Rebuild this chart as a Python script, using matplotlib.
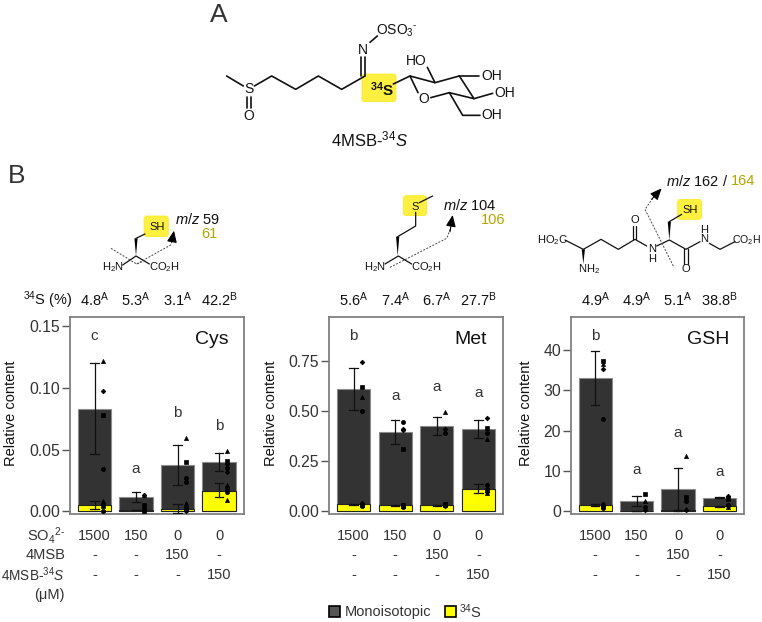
#!/usr/bin/python3
# Sulfur isotope labelling figure: structures on top, three bar panels below.

import matplotlib
matplotlib.use('Agg')
import matplotlib.pyplot as plt
from matplotlib.patches import FancyBboxPatch, Polygon
from matplotlib.transforms import blended_transform_factory

plt.rcParams['font.family'] = ['Liberation Sans', 'DejaVu Sans']
plt.rcParams['mathtext.fontset'] = 'custom'
plt.rcParams['mathtext.rm'] = 'Liberation Sans'
plt.rcParams['mathtext.it'] = 'Liberation Sans:italic'
plt.rcParams['mathtext.bf'] = 'Liberation Sans:bold'
plt.rcParams['mathtext.default'] = 'regular'

# treatment table under the bars
so4 = ['1500', '150', '0', '0']
msb = ['-', '-', '150', '-']
msb34 = ['-', '-', '-', '150']

cys_mono = [0.083, 0.0115, 0.0375, 0.040]
cys_s34 = [0.005, 0.001, 0.0015, 0.0165]
cys_mono_err = [(0.046, 0.120), (0.0075, 0.016), (0.021, 0.054), (0.0325, 0.047)]
cys_s34_err = [(0.0015, 0.0085), (0.0008, 0.0012), (-0.001, 0.0055), (0.0115, 0.0225)]
cys_points = [[0.122, 0.097, 0.078, 0.034, 0.008, 0.006, 0.004, 0.0],
              [0.0135, 0.013, 0.005, 0.003, 0.002, 0.001, 0.0],
              [0.059, 0.001, 0.040, 0.027, 0.007, 0.0, 0.003, 0.024],
              [0.049, 0.038, 0.041, 0.035, 0.021, 0.032, 0.019, 0.016, 0.0095]]
cys_letters = ['c', 'a', 'b', 'b']
cys_letter_y = [0.142, 0.034, 0.0794, 0.0694]
cys_pct = ['4.8', '5.3', '3.1', '42.2']
cys_pct_sup = ['A', 'A', 'A', 'B']

met_mono = [0.61, 0.395, 0.425, 0.41]
met_s34 = [0.035, 0.03, 0.03, 0.11]
met_mono_err = [(0.505, 0.715), (0.335, 0.455), (0.38, 0.47), (0.365, 0.455)]
met_s34_err = [(0.03, 0.038), (0.028, 0.032), (0.026, 0.033), (0.09, 0.135)]
met_points = [[0.57, 0.745, 0.62, 0.50, 0.035, 0.04, 0.03, 0.025],
              [0.03, 0.405, 0.31, 0.445, 0.025, 0.41, 0.032, 0.02],
              [0.495, 0.41, 0.035, 0.39, 0.03, 0.025],
              [0.36, 0.465, 0.415, 0.39, 0.09, 0.095, 0.105, 0.13]]
met_letters = ['b', 'a', 'a', 'a']
met_letter_y = [0.873, 0.574, 0.617, 0.591]
met_pct = ['5.6', '7.4', '6.7', '27.7']
met_pct_sup = ['A', 'A', 'A', 'B']

gsh_mono = [33.1, 2.6, 5.5, 3.4]
gsh_s34 = [1.5, 0.1, 0.2, 1.2]
gsh_mono_err = [(26.3, 39.8), (1.3, 3.9), (0.3, 10.8), (3.3, 3.5)]
gsh_s34_err = [(1.3, 1.7), (0.08, 0.12), (0.15, 0.25), (1.1, 1.4)]
gsh_points = [[36.5, 35.3, 37.2, 23.0, 1.5, 1.9, 1.2, 0.9],
              [2.5, 0.4, 4.2, 1.0],
              [13.6, 0.2, 3.6, 2.6, 0.5],
              [3.0, 3.8, 3.3, 1.6, 1.0, 1.2]]
gsh_letters = ['b', 'a', 'a', 'a']
gsh_letter_y = [43.5, 10.3, 19.5, 9.8]
gsh_pct = ['4.9', '4.9', '5.1', '38.8']
gsh_pct_sup = ['A', 'A', 'A', 'B']

W, H = 762, 622
DARK = '#333333'
OLIVE = '#b3a400'
shapes = ['^', 'D', 's', 'o']

fig = plt.figure(figsize=(W / 100, H / 100), dpi=100)
ov = fig.add_axes([0, 0, 1, 1], zorder=5)
ov.set_xlim(0, W)
ov.set_ylim(H, 0)
ov.axis('off')


def px_axes(x0, y0, x1, y1):
    return fig.add_axes([x0 / W, 1 - y1 / H, (x1 - x0) / W, (y1 - y0) / H])


def panel(box, name, name_x, mono, s34, mono_err, s34_err, points, letters, letter_y,
          ylim, ticks, ticklabels, label_x, pct, pct_sup):
    ax = px_axes(*box)
    xs = range(4)
    ax.bar(xs, mono, width=0.8, color=DARK, edgecolor='#8c8c8c', linewidth=0.8, zorder=2)
    ax.bar(xs, s34, width=0.8, color='#ffff00', edgecolor='#222222', linewidth=0.8, zorder=3)
    for i in xs:
        for lo, hi in (mono_err[i], s34_err[i]):
            ax.plot([i, i], [lo, hi], color='#111111', lw=0.9, zorder=4)
            ax.plot([i - 0.1, i + 0.1], [lo, lo], color='#111111', lw=0.9, zorder=4)
            ax.plot([i - 0.1, i + 0.1], [hi, hi], color='#111111', lw=0.9, zorder=4)
        for k, v in enumerate(points[i]):
            m = shapes[k % 4]
            ax.plot(i + 0.2, v, marker=m, ms=2.4 if m == 'D' else 3.0, color='black',
                    mec='black', mew=0.5, ls='none', zorder=5, clip_on=False)
        ax.text(i, letter_y[i], letters[i], ha='center', va='center', fontsize=11, color=DARK)
    ax.set_xlim(-0.59, 3.6)
    ax.set_ylim(*ylim)
    ax.set_xticks([])
    ax.set_yticks(ticks)
    ax.set_yticklabels(ticklabels, fontsize=11.3, color=DARK)
    ax.tick_params(axis='y', length=6, width=1, color='#555555', pad=1)
    for s in ax.spines.values():
        s.set_color('#808080')
        s.set_linewidth(1.3)
    ov.text(label_x, 413, 'Relative content', rotation=90, ha='center', va='center',
            fontsize=10.5, color='#111111')
    ov.text(name_x, 340, name, ha='center', va='center', fontsize=14, color='#111111')
    # table rows and percentages follow the bar positions, rows sit at fixed pixels
    tr = blended_transform_factory(ax.transData, ov.transData)
    for i in xs:
        ov.text(i, 536, so4[i], transform=tr, ha='center', va='center', fontsize=10.5, color=DARK)
        ov.text(i, 555, msb[i], transform=tr, ha='center', va='center', fontsize=10.5, color=DARK)
        ov.text(i, 575, msb34[i], transform=tr, ha='center', va='center', fontsize=10.5, color=DARK)
        ov.text(i, 300, '%s$^{%s}$' % (pct[i], pct_sup[i]), transform=tr, ha='center',
                va='center', fontsize=10.5, color='#111111')
    return ax


panel((70, 317, 244, 514), 'Cys', 212, cys_mono, cys_s34, cys_mono_err, cys_s34_err,
      cys_points, cys_letters, cys_letter_y, (-0.0022, 0.1573),
      [0, 0.05, 0.10, 0.15], ['0.00', '0.05', '0.10', '0.15'], 11, cys_pct, cys_pct_sup)
panel((329, 317, 503.3, 514), 'Met', 471, met_mono, met_s34, met_mono_err, met_s34_err,
      met_points, met_letters, met_letter_y, (-0.0134, 0.9676),
      [0, 0.25, 0.50, 0.75], ['0.00', '0.25', '0.50', '0.75'], 271, met_pct, met_pct_sup)
panel((570.7, 317, 744.3, 514), 'GSH', 708, gsh_mono, gsh_s34, gsh_mono_err, gsh_s34_err,
      gsh_points, gsh_letters, gsh_letter_y, (-0.67, 48.2),
      [0, 10, 20, 30, 40], ['0', '10', '20', '30', '40'], 526, gsh_pct, gsh_pct_sup)

# row labels
ov.text(65, 536, 'SO$_4$$^{2\\text{-}}$', ha='right', va='center', fontsize=10.5, color=DARK)
ov.text(65, 555, '4MSB', ha='right', va='center', fontsize=10.5, color=DARK)
ov.text(65, 575, '4MSB-$^{34}$$\\mathit{S}$', ha='right', va='center', fontsize=9.8, color=DARK)
ov.text(65, 595, '(μM)', ha='right', va='center', fontsize=10.5, color=DARK)
ov.text(48, 300, '$^{34}$S (%)', ha='center', va='center', fontsize=10.5, color='#111111')

# legend
for x, c in ((329, '#555555'), (444.5, '#ffff00')):
    ov.add_patch(plt.Rectangle((x, 606), 11, 11, fc=c, ec='black', lw=1.2))
ov.text(345, 612, 'Monoisotopic', va='center', fontsize=10.5, color=DARK)
ov.text(459, 612, '$^{34}$S', va='center', fontsize=10.5, color=DARK)

ov.text(210, 15, 'A', ha='left', va='center', fontsize=19, color=DARK)
ov.text(8, 176, 'B', ha='left', va='center', fontsize=19, color=DARK)


def bonds(x0, y0, paths, lw=1.1, **kw):
    # paths are given in 3x zoom units relative to an origin
    for p in paths:
        ov.plot([x0 + a / 3 for a, b in p], [y0 + b / 3 for a, b in p],
                color=kw.get('color', '#111111'), lw=lw, ls=kw.get('ls', '-'),
                solid_capstyle='round')


def labels(x0, y0, items, size=8.5):
    for a, b, s in items:
        ov.text(x0 + a / 3, y0 + b / 3, s, ha='center', va='center', fontsize=size, color='#111111')


def glow(x0, y0, a0, b0, a1, b1):
    ov.add_patch(FancyBboxPatch((x0 + a0 / 3 + 3, y0 + b0 / 3 + 3), (a1 - a0) / 3 - 6, (b1 - b0) / 3 - 6,
                                boxstyle='round,pad=3', fc='#fdf040', ec='#f8e81c', lw=0.5, zorder=0))


def wedge(x0, y0, a0, b0, a1, b1):
    ov.add_patch(Polygon([(x0 + a0 / 3, y0 + b0 / 3), (x0 + a1 / 3 - 1.6, y0 + b1 / 3),
                          (x0 + a1 / 3 + 1.6, y0 + b1 / 3)], fc='black', ec='none'))


def arrow(x0, y0, a0, b0, a1, b1):
    ov.annotate('', xy=(x0 + a1 / 3, y0 + b1 / 3), xytext=(x0 + a0 / 3, y0 + b0 / 3),
                arrowprops=dict(arrowstyle='-|>,head_length=0.7,head_width=0.3', color='black',
                                lw=0.8, shrinkA=0, shrinkB=0))


# panel A, 4MSB structure
glow(190, 0, 516, 222, 618, 305)
bonds(190, 0, [[(110, 228), (160, 258)],
               [(193, 258), (245, 228), (317, 268), (385, 228), (455, 268), (525, 228)],
               [(172, 292), (172, 325)], [(184, 292), (184, 325)],
               [(514, 228), (514, 172)], [(526, 228), (526, 172)],
               [(540, 127), (562, 108)],
               [(610, 252), (660, 228), (735, 248), (808, 228), (852, 296), (778, 278), (722, 293)],
               [(660, 228), (684, 278)],
               [(735, 248), (712, 202)], [(808, 228), (868, 228)], [(852, 296), (908, 280)],
               [(778, 278), (818, 346), (870, 346)]], lw=1.2)
labels(190, 0, [(177, 268, 'S'), (177, 348, 'O'), (520, 150, 'N'),
                (622, 93, 'OSO$_3$$^{\\text{-}}$'), (700, 296, 'O'), (678, 182, 'HO'),
                (905, 228, 'OH'), (943, 278, 'OH'), (905, 346, 'OH')], size=10)
ov.text(190 + 577 / 3, 268 / 3, '$^{\\mathbf{34}}$S', ha='center', va='center', fontsize=11,
        fontweight='bold', color='#111111')
ov.text(190 + 540 / 3, 418 / 3, '4MSB-$^{34}$$\\mathit{S}$', ha='center', va='center',
        fontsize=12, color='#111111')

# cysteine
glow(0, 160, 432, 168, 505, 230)
wedge(0, 160, 408, 288, 408, 235)
bonds(0, 160, [[(408, 235), (435, 222)], [(368, 315), (408, 288), (448, 312)]], lw=0.9)
bonds(0, 160, [[(333, 265), (410, 312), (440, 300)], [(410, 312), (512, 255), (518, 235)]],
      lw=0.7, ls=(0, (2, 1.5)), color='#444444')
arrow(0, 160, 516, 245, 522, 212)
labels(0, 160, [(472, 200, 'SH'), (338, 320, 'H$_2$N'), (492, 320, 'CO$_2$H')], size=8)
ov.text(175, 219, '$\\mathit{m/z}$ 59', va='center', fontsize=10.5, color='#111111')
ov.text(217, 234, '61', ha='right', va='center', fontsize=10.5, color=OLIVE)

# methionine
glow(0, 160, 1210, 107, 1280, 167)
wedge(0, 160, 1193, 288, 1193, 230)
bonds(0, 160, [[(1193, 230), (1247, 198), (1247, 157)], [(1258, 128), (1298, 108)],
               [(1155, 312), (1195, 288), (1235, 312)]], lw=0.9)
bonds(0, 160, [[(1170, 322), (1340, 235), (1352, 205)]], lw=0.7, ls=(0, (2, 1.5)), color='#444444')
arrow(0, 160, 1350, 215, 1358, 165)
labels(0, 160, [(1245, 140, 'S'), (1125, 320, 'H$_2$N'), (1278, 320, 'CO$_2$H')], size=8)
ov.text(443, 205, '$\\mathit{m/z}$ 104', va='center', fontsize=10.5, color='#111111')
ov.text(505, 220, '106', ha='right', va='center', fontsize=10.5, color=OLIVE)

# glutathione
glow(500, 160, 533, 118, 605, 178)
wedge(500, 160, 250, 312, 250, 268)
wedge(500, 160, 508, 240, 508, 185)
bonds(500, 160, [[(195, 240), (250, 268), (303, 238), (355, 268), (405, 238), (440, 258)],
                 [(398, 238), (398, 197)], [(408, 238), (408, 197)],
                 [(470, 258), (508, 240), (558, 268), (600, 245)],
                 [(508, 185), (545, 163)],
                 [(553, 268), (553, 312)], [(563, 268), (563, 312)],
                 [(628, 250), (660, 268), (705, 245)]], lw=0.9)
bonds(500, 160, [[(520, 318), (435, 148), (465, 105)]], lw=0.7, ls=(0, (2, 1.5)), color='#444444')
arrow(500, 160, 455, 118, 485, 85)
labels(500, 160, [(158, 240, 'HO$_2$C'), (403, 180, 'O'), (455, 268, 'N'), (455, 298, 'H'),
                  (570, 150, 'SH'), (558, 328, 'O'), (612, 238, 'N'), (612, 210, 'H'),
                  (268, 328, 'NH$_2$')], size=8)
ov.text(761, 160 + 240 / 3, 'CO$_2$H', ha='right', va='center', fontsize=7.6, color='#111111')
ov.text(666, 181, '$\\mathit{m/z}$ 162 / ', va='center', fontsize=10.5, color='#111111')
ov.text(731, 181, '164', va='center', fontsize=10.5, color=OLIVE)

fig.savefig('out.png', dpi=100)
